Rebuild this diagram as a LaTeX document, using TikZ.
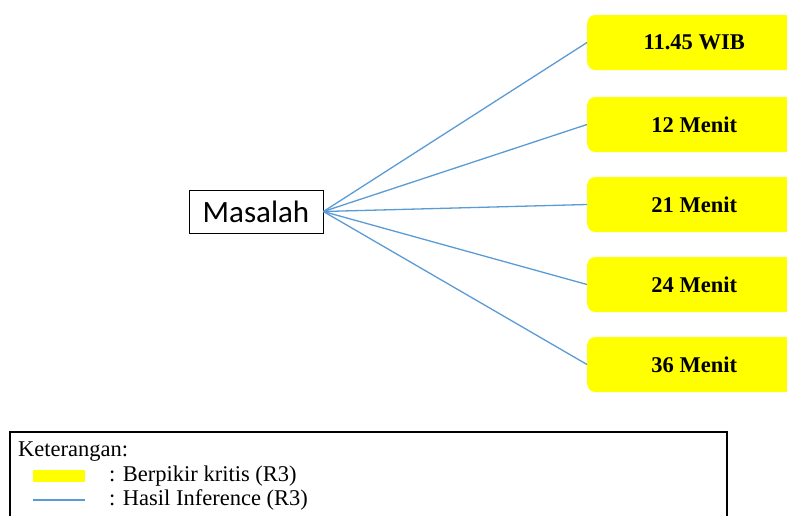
\documentclass[tikz,border=0pt]{standalone}
\usepackage{fontspec}
\setmainfont{Liberation Serif}
\newfontfamily\labelsans{Carlito}
\definecolor{linkblue}{RGB}{91,155,213}
\definecolor{markyellow}{RGB}{255,255,0}
\begin{document}
\begin{tikzpicture}[x=1pt,y=-1pt,
  resultbox/.style={fill=markyellow, rounded corners=8pt, minimum width=214pt,
    minimum height=55pt, inner sep=0pt, anchor=west,
    font=\fontsize{22.5}{26}\selectfont\bfseries},
  link/.style={linkblue, line width=1.3pt},
  legendtext/.style={anchor=west, inner sep=0pt, font=\fontsize{22.5}{26}\selectfont}]
\useasboundingbox (0,0) rectangle (787,515);
\clip (0,0) rectangle (787,515);

% central problem node
\node[draw, line width=0.8pt, minimum width=134pt, minimum height=43pt, inner sep=0pt,
  font=\labelsans\fontsize{31}{36}\selectfont] (problem) at (256,211.5) {Masalah};

% inference results
\node[resultbox] (r1) at (587,42.5) {11.45 WIB};
\node[resultbox] (r2) at (587,124.5) {12 Menit};
\node[resultbox] (r3) at (587,204.5) {21 Menit};
\node[resultbox] (r4) at (587,284.5) {24 Menit};
\node[resultbox] (r5) at (587,364.5) {36 Menit};

\foreach \r in {r1,r2,r3,r4,r5}
  \draw[link] (problem.east) -- (\r.west);

% legend
\draw[line width=2pt] (10,432) rectangle (727,540);
\node[legendtext] (legtitle) at (18,452) {Keterangan:};
\node[fill=markyellow, minimum width=52pt, minimum height=12pt, inner sep=0pt] (swatch) at (59,476) {};
\node[legendtext] (legyellow) at (109,476) {: Berpikir kritis (R3)};
\coordinate (lineA) at (33,500);
\coordinate (lineB) at (85,500);
\draw[link] (lineA) -- (lineB);
\node[legendtext] (legblue) at (109,500) {: Hasil Inference (R3)};
\end{tikzpicture}
\end{document}
